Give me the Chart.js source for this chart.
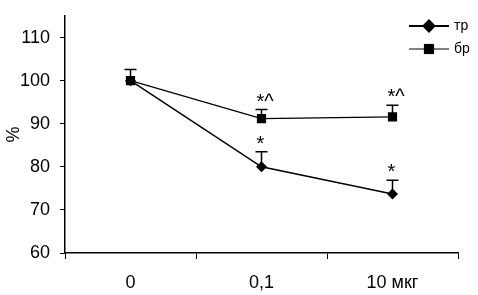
<!DOCTYPE html>
<html>
<head>
<meta charset="utf-8">
<script src="https://cdn.jsdelivr.net/npm/chart.js"></script>
<style>
body { margin: 0; background: #fff; }
#wrap { width: 478px; height: 295px; }
</style>
</head>
<body>
<div id="wrap"><canvas id="chart"></canvas></div>
<script>
var labels = ['0', '0,1', '10 мкг'];
var trValues = [100, 80, 73.7];
var trErrors = [0, 3.5, 3.2];
var trMarks = ['', '*', '*'];
var brValues = [100, 91.2, 91.6];
var brErrors = [2.6, 2.1, 2.7];
var brMarks = ['', '*^', '*^'];
var yTicks = [60, 70, 80, 90, 100, 110];

var font = 'Liberation Sans, Arial, sans-serif';

// upper error bars + star marks above them
var errorBars = {
    id: 'errorBars',
    afterDatasetsDraw: function(chart) {
        var ctx = chart.ctx;
        var y = chart.scales.y;
        ctx.save();
        chart.data.datasets.forEach(function(ds, di) {
            var meta = chart.getDatasetMeta(di);
            meta.data.forEach(function(pt, i) {
                var top = y.getPixelForValue(ds.data[i] + ds.errors[i]);
                if (ds.errors[i] > 0) {
                    ctx.strokeStyle = '#000';
                    ctx.lineWidth = 1.5;
                    ctx.beginPath();
                    ctx.moveTo(pt.x, pt.y);
                    ctx.lineTo(pt.x, top);
                    ctx.moveTo(pt.x - 6, top);
                    ctx.lineTo(pt.x + 6, top);
                    ctx.stroke();
                }
                if (ds.marks[i]) {
                    ctx.fillStyle = '#000';
                    ctx.font = '20px ' + font;
                    ctx.textBaseline = 'alphabetic';
                    ctx.textAlign = 'left';
                    ctx.fillText(ds.marks[i], pt.x - 5, top - 2);
                }
            });
        });
        ctx.restore();
    }
};

// legend drawn like the original: line with marker in the middle
var lineLegend = {
    id: 'lineLegend',
    afterDraw: function(chart) {
        var ctx = chart.ctx;
        ctx.save();
        chart.data.datasets.forEach(function(ds, di) {
            var ly = 26 + di * 23;
            ctx.strokeStyle = '#000';
            ctx.lineWidth = di === 0 ? 2 : 1;
            ctx.beginPath();
            ctx.moveTo(409, ly);
            ctx.lineTo(449, ly);
            ctx.stroke();
            Chart.helpers.drawPoint(ctx, {pointStyle: ds.pointStyle, radius: ds.pointRadius, borderWidth: 1}, 429, ly);
            ctx.fillStyle = '#000';
            ctx.fill();
            ctx.font = '14px ' + font;
            ctx.textAlign = 'left';
            ctx.textBaseline = 'middle';
            ctx.fillText(ds.label, 454, ly);
        });
        ctx.restore();
    }
};

var chart = new Chart(document.getElementById('chart'), {
    type: 'line',
    data: {
        labels: labels,
        datasets: [{
            label: 'тр',
            data: trValues,
            errors: trErrors,
            marks: trMarks,
            borderColor: '#000',
            backgroundColor: '#000',
            borderWidth: 1.5,
            pointStyle: 'rectRot',
            pointRadius: 5.5,
            pointBorderWidth: 0
        }, {
            label: 'бр',
            data: brValues,
            errors: brErrors,
            marks: brMarks,
            borderColor: '#000',
            backgroundColor: '#000',
            borderWidth: 1.2,
            pointStyle: 'rect',
            pointRadius: 6.5,
            pointBorderWidth: 0
        }]
    },
    options: {
        responsive: true,
        maintainAspectRatio: false,
        animation: false,
        layout: { padding: { top: 16, right: 20, left: 0, bottom: 0 } },
        plugins: {
            legend: { display: false },
            tooltip: { enabled: false }
        },
        scales: {
            x: {
                offset: true,
                grid: { offset: true, drawOnChartArea: false, tickLength: 6, color: '#000', lineWidth: 1 },
                border: { color: '#000', width: 1.5 },
                ticks: { color: '#000', font: { family: font, size: 18 }, padding: 13, maxRotation: 0 },
                afterFit: function(scale) { scale.height = 42; }
            },
            y: {
                min: 60,
                max: 115,
                grid: { drawOnChartArea: false, tickLength: 5, color: '#000', lineWidth: 1 },
                border: { color: '#000', width: 1.5 },
                ticks: { color: '#000', font: { family: font, size: 18 }, padding: 10 },
                afterBuildTicks: function(scale) {
                    scale.ticks = yTicks.map(function(v) { return { value: v }; });
                },
                title: { display: true, text: '%', color: '#000', font: { family: font, size: 18 }, padding: { top: 3, bottom: 0 } },
                afterFit: function(scale) {
                    scale.width = 65;
                    scale.paddingTop = 0;
                    scale.paddingBottom = 0;
                }
            }
        }
    },
    plugins: [errorBars, lineLegend]
});
</script>
</body>
</html>
